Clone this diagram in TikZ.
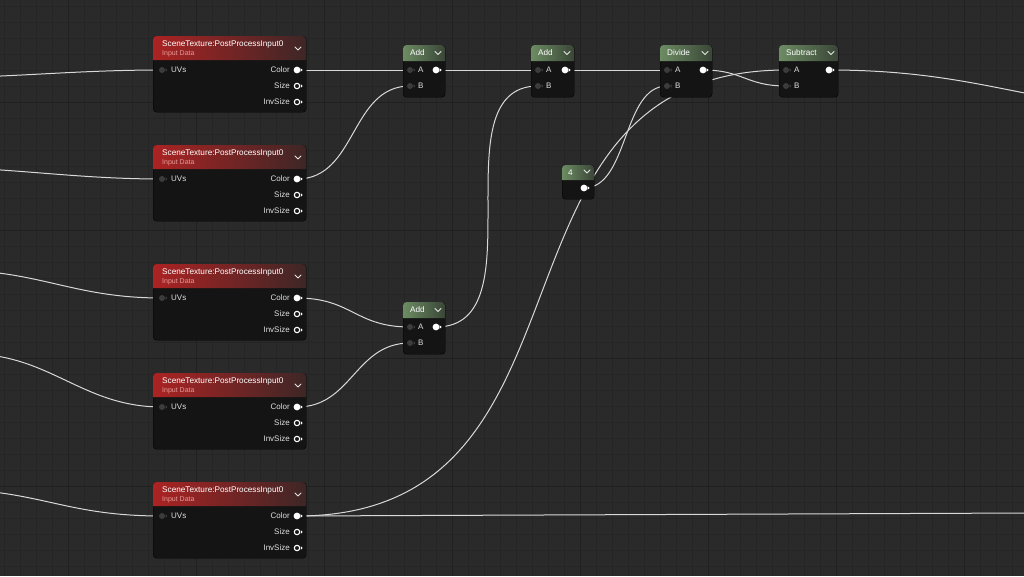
\documentclass[tikz,border=0pt]{standalone}
\usepackage{fontspec}
\setmainfont{Liberation Sans}
\definecolor{bgc}{HTML}{2A2A2A}
\definecolor{gminorc}{HTML}{252525}
\definecolor{gmajorc}{HTML}{202020}
\definecolor{nodebg}{HTML}{141414}
\definecolor{wirec}{HTML}{D9D9D9}
\definecolor{redA}{HTML}{AC2323}
\definecolor{redB}{HTML}{961D1D}
\definecolor{redC}{HTML}{3E2626}
\definecolor{grnA}{HTML}{6C8C63}
\definecolor{grnB}{HTML}{587552}
\definecolor{grnC}{HTML}{3A4637}
\definecolor{subc}{HTML}{E39A9A}
\definecolor{pinc}{HTML}{3C3C3C}
\pgfdeclarelayer{bglayer}
\pgfdeclarelayer{wires}
\pgfsetlayers{bglayer,wires,main}
\tikzset{
  wire/.style={draw=wirec, line width=1pt},
  nbody/.style={fill=nodebg, draw=black, line width=0.4pt, rounded corners=3.5pt, inner sep=0pt, anchor=north west},
  ttl/.style={text=white, font=\fontsize{8.2}{9}\selectfont, inner sep=0pt, anchor=west},
  subt/.style={text=subc, font=\fontsize{7}{8}\selectfont, inner sep=0pt, anchor=west},
  pinlbl/.style={text=white!88!black, font=\fontsize{8}{9}\selectfont, inner sep=0pt},
  chev/.style={draw=white!90!black, line width=1pt, line cap=round, line join=round},
}
\newcommand\inpin[1]{\begin{scope}[shift={(#1)}]\fill[pinc] (0,0) circle (3);\fill[pinc] (3.6,-1.8) -- (5.4,0) -- (3.6,1.8) -- cycle;\end{scope}}
\newcommand\outpin[1]{\begin{scope}[shift={(#1)}]\fill[white] (0,0) circle (3.4);\fill[white] (3.6,-1.8) -- (5.6,0) -- (3.6,1.8) -- cycle;\end{scope}}
\newcommand\ringpin[1]{\begin{scope}[shift={(#1)}]\draw[white, line width=1.1pt] (0,0) circle (2.7);\fill[white] (3.8,-1.8) -- (5.6,0) -- (3.8,1.8) -- cycle;\end{scope}}
% SceneTexture node: #1 name, #2 top
\newcommand\stnode[2]{%
  \node[nbody, minimum width=153pt, minimum height=76pt] (#1) at (153,#2) {};
  \shade[left color=redA, middle color=redB, right color=redC] (153,#2+24) [rounded corners=3.5pt] -- (153,#2) -- (306,#2) [sharp corners] -- (306,#2+24) -- cycle;
  \node[ttl] (#1t) at (162,#2+8) {SceneTexture:PostProcessInput0};
  \node[subt] (#1d) at (162,#2+18) {Input Data};
  \draw[chev] (295,#2+11) -- (298,#2+14) -- (301,#2+11);
  \coordinate (#1uv) at (162,#2+34);
  \coordinate (#1c) at (297,#2+34);
  \coordinate (#1s) at (297,#2+50);
  \coordinate (#1i) at (297,#2+66);
  \node[pinlbl, anchor=west] at (171,#2+34) {UVs};
  \node[pinlbl, anchor=east] at (290,#2+34) {Color};
  \node[pinlbl, anchor=east] at (290,#2+50) {Size};
  \node[pinlbl, anchor=east] at (290,#2+66) {InvSize};
  \inpin{#1uv}\outpin{#1c}\ringpin{#1s}\ringpin{#1i}
}
% math node: #1 name, #2 x1, #3 x2, #4 top, #5 title
\newcommand\mathnode[5]{%
  \node[nbody, minimum width=#3pt-#2pt, minimum height=52pt] (#1) at (#2,#4) {};
  \shade[left color=grnA, middle color=grnB, right color=grnC] (#2,#4+16) [rounded corners=3.5pt] -- (#2,#4) -- (#3,#4) [sharp corners] -- (#3,#4+16) -- cycle;
  \node[ttl] (#1t) at (#2+7,#4+8) {#5};
  \draw[chev] (#3-10,#4+6.5) -- (#3-7,#4+9.5) -- (#3-4,#4+6.5);
  \coordinate (#1a) at (#2+7,#4+25);
  \coordinate (#1b) at (#2+7,#4+41);
  \coordinate (#1o) at (#3-9,#4+25);
  \node[pinlbl, anchor=west] at (#2+15,#4+25) {A};
  \node[pinlbl, anchor=west] at (#2+15,#4+41) {B};
  \inpin{#1a}\inpin{#1b}\outpin{#1o}
}
\begin{document}
\begin{tikzpicture}[x=1pt,y=-1pt]
\useasboundingbox (0,0) rectangle (1024,576);
\begin{pgfonlayer}{bglayer}
  \fill[bgc] (0,0) rectangle (1024,576);
  \foreach \v in {4,20,...,1024} \draw[gminorc, line width=0.6pt] (\v,0) -- (\v,576);
  \foreach \v in {6,22,...,576} \draw[gminorc, line width=0.6pt] (0,\v) -- (1024,\v);
  \foreach \v in {68,196,...,1024} \draw[gmajorc, line width=0.8pt] (\v,0) -- (\v,576);
  \foreach \v in {102,230,...,576} \draw[gmajorc, line width=0.8pt] (0,\v) -- (1024,\v);
\end{pgfonlayer}

\stnode{st1}{36}
\stnode{st2}{145}
\stnode{st3}{264}
\stnode{st4}{373}
\stnode{st5}{482}

\mathnode{add1}{403}{445}{45}{Add}
\mathnode{add2}{531}{574}{45}{Add}
\mathnode{div}{660}{712}{45}{Divide}
\mathnode{sub}{779}{838}{45}{Subtract}
\mathnode{add3}{403}{445}{302}{Add}

% constant node
\node[nbody, minimum width=32pt, minimum height=34pt] (k4) at (562,165) {};
\shade[left color=grnA, middle color=grnB, right color=grnC] (562,180) [rounded corners=3.5pt] -- (562,165) -- (594,165) [sharp corners] -- (594,180) -- cycle;
\node[ttl] (k4t) at (568,172.5) {4};
\draw[chev] (584,170) -- (587,173) -- (590,170);
\coordinate (k4o) at (584,188);
\outpin{k4o}

% off-screen ends
\coordinate (L1) at (-80,78);
\coordinate (L2) at (-80,167);
\coordinate (L3) at (-50,270);
\coordinate (L4) at (-30,354);
\coordinate (L5) at (-60,489);
\coordinate (R1) at (1200,112);
\coordinate (R2) at (1030,513);

\begin{pgfonlayer}{wires}
  \draw[wire] (L1) .. controls +(90,0) and +(-90,0) .. (st1uv);
  \draw[wire] (L2) .. controls +(90,0) and +(-90,0) .. (st2uv);
  \draw[wire] (L3) .. controls +(90,0) and +(-90,0) .. (st3uv);
  \draw[wire] (L4) .. controls +(80,0) and +(-80,0) .. (st4uv);
  \draw[wire] (L5) .. controls +(100,0) and +(-100,0) .. (st5uv);
  \draw[wire] (st1c) -- (add1a);
  \draw[wire] (st2c) .. controls +(60,0) and +(-60,0) .. (add1b);
  \draw[wire] (st3c) .. controls +(55,0) and +(-55,0) .. (add3a);
  \draw[wire] (st4c) .. controls +(55,0) and +(-55,0) .. (add3b);
  \draw[wire] (add1o) -- (add2a);
  \draw[wire] (add3o) .. controls +(52,0) and +(0,57) .. (488,210) .. controls +(0,-60) and +(-52,0) .. (add2b);
  \draw[wire] (add2o) -- (diva);
  \draw[wire] (k4o) .. controls +(45,0) and +(-45,0) .. (divb);
  \draw[wire] (divo) .. controls +(40,0) and +(-40,0) .. (subb);
  \draw[wire] (st5c) .. controls +(319,0) and +(-319,0) .. (suba);
  \draw[wire] (st5c) -- (R2);
  \draw[wire] (subo) .. controls +(160,0) and +(-160,0) .. (R1);
\end{pgfonlayer}
\end{tikzpicture}
\end{document}
